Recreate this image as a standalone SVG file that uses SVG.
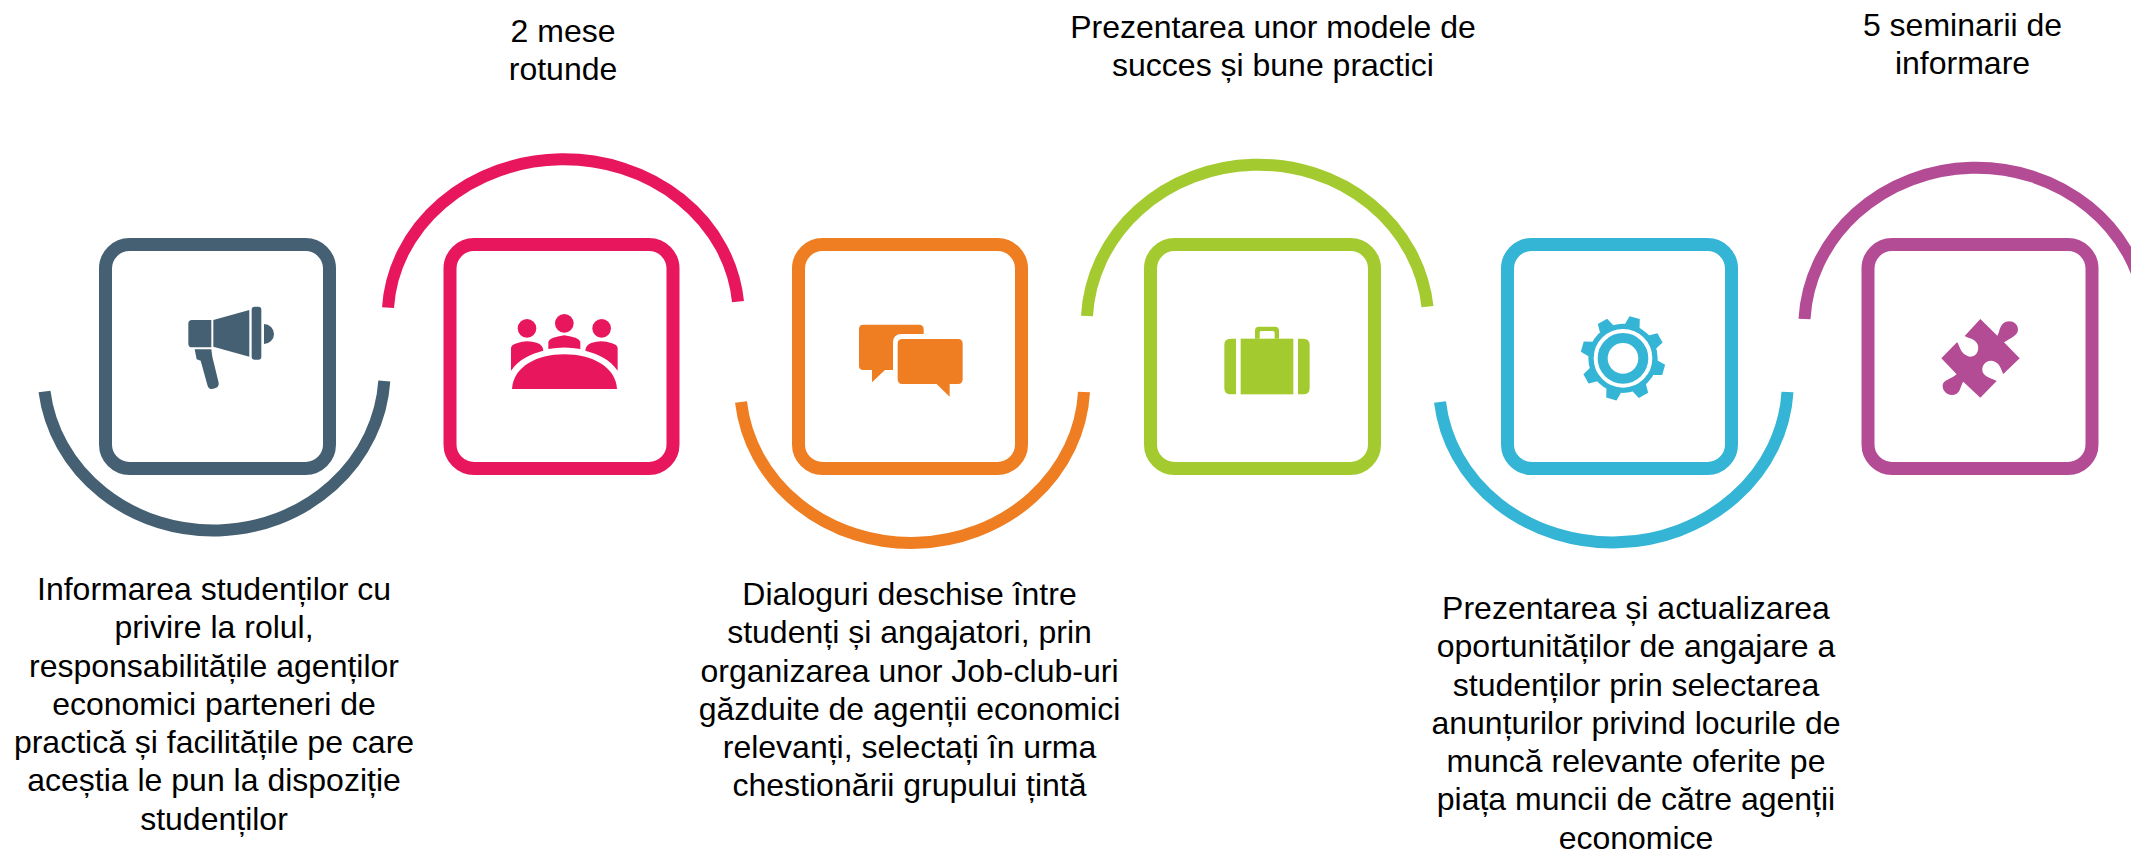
<svg xmlns="http://www.w3.org/2000/svg" width="2131" height="852" viewBox="0 0 2131 852">
<style>
text{font-family:"Liberation Sans",Arial,sans-serif;font-size:32px;fill:#000;text-anchor:middle}
.box{fill:#fff;stroke-width:13;}
.arc{fill:none;stroke-width:12}
.c1{stroke:#466073}.f1{fill:#466073}
.c2{stroke:#e8175d}.f2{fill:#e8175d}
.c3{stroke:#ef7e22}.f3{fill:#ef7e22}
.c4{stroke:#a3cb30}.f4{fill:#a3cb30}
.c5{stroke:#34b5d5}.f5{fill:#34b5d5}
.c6{stroke:#b34c95}.f6{fill:#b34c95}
</style>
<defs><polygon id="tooth" points="-23,-100 -16,-127 16,-127 23,-100"/></defs>
<rect width="2131" height="852" fill="#fff"/>
<g id="connectors">
<path class="arc c1" d="M44.5,391.5A170.7,158.8 -1.77 0 0 384.3,381"/>
<path class="arc c2" d="M388,307.7A175.5,156.9 -1 0 1 738,301.7"/>
<path class="arc c3" d="M741,402A172.1,158.3 -1.67 0 0 1084,392"/>
<path class="arc c4" d="M1087,316A170.8,158.6 -1.56 0 1 1427.5,306.7"/>
<path class="arc c5" d="M1440,402A174.4,158.3 -1.65 0 0 1787.5,392"/>
<path class="arc c6" d="M1804.5,319A171.3,158.8 -1.5 0 1 2146,310"/>
</g>
<g id="node1">
<rect class="box c1" x="105.5" y="244.5" width="224" height="224" rx="24"/>
<g class="f1" transform="translate(170,290) scale(.3333)">
<path d="M66,90H124V172H66Q55,172 55,161V101Q55,90 66,90Z"/>
<path d="M130,90L238,60V200L130,170Z"/>
<rect x="245" y="50" width="29" height="159" rx="9"/>
<path d="M282,102A30,30 0 0 1 282,162Z"/>
<path d="M74,178H124L127,200L146,278Q148,290 135,295Q118,302 113,288L92,212L80,208Z"/>
</g>
<text x="214" y="600">Informarea studenților cu</text>
<text x="214" y="638.300">privire la rolul,</text>
<text x="214" y="676.500">responsabilitățile agenților</text>
<text x="214" y="714.800">economici parteneri de</text>
<text x="214" y="753">practică și facilitățile pe care</text>
<text x="214" y="791.300">aceștia le pun la dispoziție</text>
<text x="214" y="829.500">studenților</text>
</g>
<g id="node2">
<rect class="box c2" x="450" y="244.5" width="223" height="224" rx="24"/>
<g class="f2" transform="translate(500,300) scale(.3333)">
<circle cx="81" cy="85" r="28"/><circle cx="193" cy="70" r="28"/><circle cx="305" cy="85" r="28"/>
<path d="M36,267C40,200 110,163 193,163C276,163 347,200 351,267Z"/>
<path d="M33,212V145Q33,135 50,130Q80,118 110,128Q130,135 130,152C90,162 55,180 33,212Z"/>
<path d="M353,212V145Q353,135 336,130Q306,118 276,128Q256,135 256,152C296,162 331,180 353,212Z"/>
<path d="M145,147V125Q150,112 193,106Q236,112 241,125V147Q193,138 145,147Z"/>
</g>
<text x="563" y="42">2 mese</text>
<text x="563" y="80.300">rotunde</text>
</g>
<g id="node3">
<rect class="box c3" x="798.500" y="244.5" width="223" height="224" rx="24"/>
<g class="f3" transform="translate(845,310) scale(.3333)">
<path d="M55,44H222Q236,44 236,58V72H170Q144,72 144,98V180H120L81,217V180H55Q42,180 42,167V57Q42,44 55,44Z"/>
<path d="M172,87H339Q353,87 353,101V208Q353,222 339,222H314V260L275,222H172Q158,222 158,208V101Q158,87 172,87Z"/>
</g>
<text x="909.500" y="605">Dialoguri deschise între</text>
<text x="909.500" y="643.300">studenți și angajatori, prin</text>
<text x="909.500" y="681.500">organizarea unor Job-club-uri</text>
<text x="909.500" y="719.800">găzduite de agenții economici</text>
<text x="909.500" y="758">relevanți, selectați în urma</text>
<text x="909.500" y="796.300">chestionării grupului țintă</text>
</g>
<g id="node4">
<rect class="box c4" x="1150.5" y="244.5" width="224" height="224" rx="24"/>
<g class="f4" transform="translate(1210,310) scale(.3333)">
<path d="M78,86H62Q43,86 43,105V234Q43,253 62,253H78Z"/>
<rect x="92" y="86" width="158" height="167"/>
<path d="M264,86H280Q299,86 299,105V234Q299,253 280,253H264Z"/>
<path fill-rule="evenodd" d="M135,86V62Q135,50 147,50H195Q207,50 207,62V86H194V68Q194,63 189,63H154Q149,63 149,68V86Z"/>
</g>
<text x="1273" y="37.500">Prezentarea unor modele de</text>
<text x="1273" y="75.800">succes și bune practici</text>
</g>
<g id="node5">
<rect class="box c5" x="1507.5" y="244.5" width="224" height="224" rx="24"/>
<g class="f5" transform="translate(1570,305) scale(.3333) translate(159,160)">
<circle r="96" fill="none" class="c5" stroke-width="16"/>
<circle r="61" fill="none" class="c5" stroke-width="30"/>
<use href="#tooth" transform="rotate(16)"/><use href="#tooth" transform="rotate(61)"/><use href="#tooth" transform="rotate(106)"/><use href="#tooth" transform="rotate(151)"/><use href="#tooth" transform="rotate(196)"/><use href="#tooth" transform="rotate(241)"/><use href="#tooth" transform="rotate(286)"/><use href="#tooth" transform="rotate(331)"/>
</g>
<text x="1636" y="619">Prezentarea și actualizarea</text>
<text x="1636" y="657.300">oportunităților de angajare a</text>
<text x="1636" y="695.500">studenților prin selectarea</text>
<text x="1636" y="733.800">anunțurilor privind locurile de</text>
<text x="1636" y="772">muncă relevante oferite pe</text>
<text x="1636" y="810.300">piața muncii de către agenții</text>
<text x="1636" y="848.500">economice</text>
</g>
<g id="node6">
<rect class="box c6" x="1868" y="244.5" width="224" height="224" rx="24"/>
<g class="f6" transform="translate(1920,305) scale(.3333)">
<path d="M181,42L232,92C238,85 238,65 250,55C265,42 295,50 294,75C293,92 270,100 252,112L299,160L250,207C243,195 240,170 215,167C190,167 182,190 190,205C198,218 220,222 230,228L181,278L130,230C122,240 122,258 110,266C90,277 66,262 68,240C70,225 95,222 110,208L64,160L111,112C120,120 120,150 150,155C175,155 180,125 170,113C160,100 145,100 134,93Z"/>
</g>
<text x="1962.500" y="36">5 seminarii de</text>
<text x="1962.500" y="74.300">informare</text>
</g>
</svg>
